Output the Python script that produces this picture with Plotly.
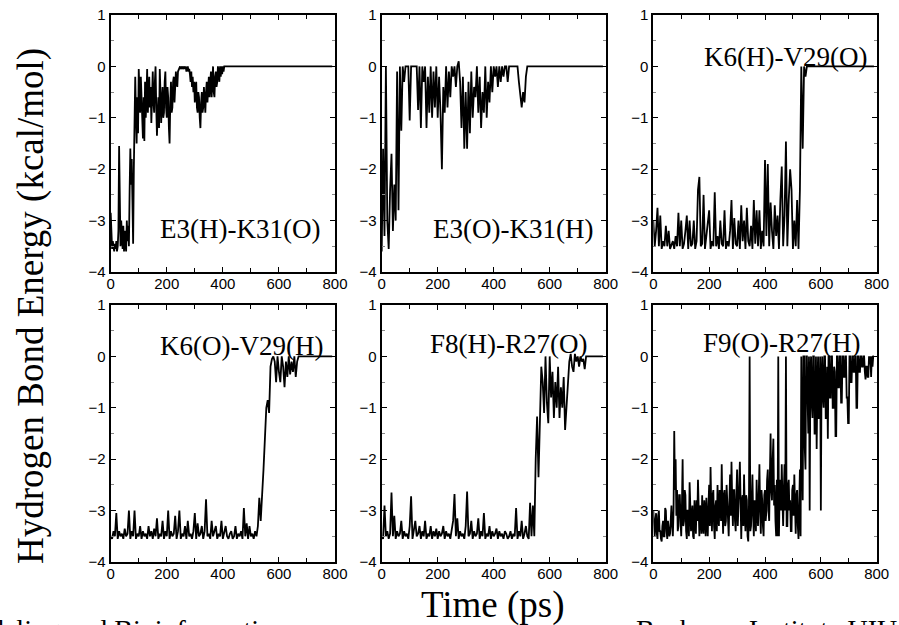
import plotly.graph_objects as go

# ---------------- data (kcal/mol) ----------------
T_END = 790

# E3(H)-K31(O), sampled every 2.5 ps from 0 to 410 ps
e3h_k31o = [-2.85, -3.3, -3.55, -3.4, -3.5, -3.6, -3.45, -3.55, -3.4, -3.6,
            -3.5, -3.2, -1.55, -3.3, -3.5, -3.0, -3.4, -3.55, -3.1, -3.6,
            -3.2, -3.5, -3.6, -3.0, -3.4, -3.1, -3.5, -2.4, -1.6, -2.3,
            -1.8, -2.6, -3.45, -2.0, -1.4, -0.2, -0.9, -1.5, -0.6, -1.3,
            -0.05, -0.7, -0.9, -0.2, -0.5, -1.0, -1.4, -0.6, -1.45, -0.3,
            -1.0, -0.6, -0.05, -0.9, -0.5, -0.2, -0.8, -0.4, -1.1, -0.3,
            -0.1, -0.7, -0.9, -0.3, 0.0, -0.8, -1.35, -0.9, -0.6, -1.2,
            -0.05, -0.5, -1.1, -0.7, -0.4, -1.0, -0.9, -0.3, -0.1, -0.8,
            -1.0, -0.4, -0.6, -1.2, -1.5, -0.7, -0.3, -0.9, -0.8, -0.3,
            -0.2, -0.7, -0.5, -0.1, -0.3, -0.4, -0.1, -0.05, 0.0, 0.0,
            -0.05, 0.0, 0.0, -0.05, 0.0, 0.0, -0.05, 0.0, -0.1, 0.0,
            0.0, -0.1, -0.05, -0.15, -0.3, -0.1, -0.4, -0.2, -0.5, -0.3,
            -0.7, -0.4, -0.3, -0.8, -0.9, -0.5, -0.6, -1.0, -1.2, -0.7,
            -0.5, -0.9, -0.8, -0.4, -0.6, -0.9, -0.5, -0.3, -0.7, -0.5,
            -0.2, -0.6, -0.3, -0.1, -0.6, -0.3, 0.0, -0.5, -0.6, -0.2,
            -0.1, -0.4, -0.3, 0.0, -0.2, -0.3, 0.0, -0.2, 0.0, -0.15,
            0.0, -0.1, 0.0, 0.0, 0.0]

# E3(O)-K31(H), every 5 ps from 0 to 520 ps
e3o_k31h = [-3.6, -1.6, -3.3, 0.0, -3.0, -3.55, -2.4, -1.7, -3.2, -2.3,
            -3.0, -0.1, -2.8, 0.0, -1.25, 0.0, -0.3, 0.0, 0.0, 0.0,
            -1.05, 0.0, 0.0, 0.0, 0.0, 0.0, -0.85, 0.0, -1.2, 0.0,
            -0.3, 0.0, -1.2, -0.2, -0.9, 0.0, -1.0, -0.1, -0.8, 0.0,
            -1.0, -0.2, -0.9, -2.0, -0.4, -0.9, 0.0, -0.8, -0.1, -0.6,
            0.0, -0.2, 0.0, -0.4, 0.0, 0.1, -0.3, -1.2, -0.2, -1.6,
            -0.5, -1.6, -0.3, -1.3, -0.1, -1.0, -0.4, -0.6, 0.0, -0.9,
            -0.2, -1.2, -0.5, -0.9, 0.0, -1.0, -0.3, -0.7, 0.0, -0.5,
            0.0, -0.2, 0.0, -0.4, 0.0, -0.3, 0.0, -0.2, 0.0, 0.0,
            -0.3, 0.0, 0.0, 0.0, 0.0, 0.0, 0.0, 0.0, -0.3, -0.6,
            -0.8, -0.5, -0.7, -0.2, 0.0]

# K6(H)-V29(O), every 5 ps from 0 to 550 ps
k6h_v29o = [-3.0, -3.5, -3.2, -2.75, -3.5, -2.9, -3.55, -3.4, -3.5, -3.1,
            -3.5, -3.2, -3.55, -3.45, -3.4, -3.55, -3.3, -3.5, -2.85, -3.5,
            -3.0, -3.55, -3.45, -3.2, -2.9, -3.55, -3.0, -3.5, -3.45, -3.0,
            -3.55, -3.4, -2.4, -2.15, -3.5, -3.45, -2.5, -3.55, -3.3, -3.0,
            -2.8, -3.55, -3.4, -3.5, -2.45, -3.5, -3.3, -3.55, -3.0, -3.45,
            -3.5, -2.8, -3.55, -3.4, -3.5, -3.2, -2.6, -3.55, -2.95, -3.45,
            -3.5, -3.0, -3.55, -2.7, -3.4, -3.0, -3.55, -2.75, -3.4, -3.5,
            -3.1, -3.55, -2.6, -3.45, -2.8, -3.5, -2.8, -3.55, -3.2, -3.5,
            -1.82, -3.3, -1.9, -3.5, -2.65, -3.2, -3.55, -2.7, -3.3, -2.9,
            -3.55, -2.6, -1.95, -3.5, -2.9, -1.46, -3.5, -2.6, -2.0, -2.4,
            -3.55, -3.0, -3.5, -2.6, -3.55, -2.4, 0.0, -1.6, 0.0, -0.2,
            0.0]

# K6(O)-V29(H), every 5 ps from 0 to 670 ps
k6o_v29h = [-3.5, -3.55, -3.4, -3.5, -3.05, -3.55, -3.4, -3.5, -3.45, -3.55,
            -3.35, -3.5, -3.45, -3.0, -3.55, -3.4, -3.5, -3.0, -3.55, -3.45,
            -3.5, -3.3, -3.55, -3.4, -3.5, -3.45, -3.55, -3.3, -3.5, -3.4,
            -3.55, -3.35, -3.5, -3.15, -3.55, -3.45, -3.5, -3.2, -3.55, -3.4,
            -3.5, -3.0, -3.55, -3.4, -3.5, -3.45, -3.1, -3.55, -3.4, -3.0,
            -3.55, -3.45, -3.5, -3.3, -3.55, -3.2, -3.5, -3.45, -3.55, -3.4,
            -3.05, -3.55, -3.25, -3.5, -3.45, -3.3, -3.55, -3.4, -2.78, -3.5,
            -3.45, -3.55, -3.2, -3.5, -3.4, -3.3, -3.55, -3.45, -3.5, -3.2,
            -3.55, -3.4, -3.3, -3.5, -3.55, -3.45, -3.4, -3.55, -3.5, -3.3,
            -3.55, -3.45, -3.5, -3.4, -3.55, -2.95, -3.5, -3.25, -3.55, -3.3,
            -3.5, -3.45, -3.55, -3.4, -3.5, -3.3, -2.75, -3.2, -2.8, -2.2,
            -1.6, -1.0, -0.85, -1.1, -0.2, -0.05, 0.0, -0.1, -0.5, 0.0,
            -0.3, -0.5, 0.0, -0.2, -0.6, -0.1, -0.4, 0.0, -0.35, -0.1,
            -0.3, 0.0, -0.4, -0.1, 0.0]

# F8(H)-R27(O), every 5 ps from 0 to 735 ps
f8h_r27o = [-3.5, -3.55, -2.9, -3.5, -3.4, -3.55, -3.45, -2.65, -3.5, -3.1,
            -3.55, -3.4, -3.5, -3.45, -3.2, -3.55, -3.4, -3.5, -3.45, -3.55,
            -3.3, -2.72, -3.55, -3.4, -3.2, -3.5, -3.45, -3.3, -3.55, -3.4,
            -3.5, -3.2, -3.55, -3.45, -3.5, -3.3, -3.55, -3.4, -3.5, -3.35,
            -3.55, -3.4, -3.5, -3.45, -3.3, -3.55, -3.4, -3.5, -3.45, -3.55,
            -3.4, -3.2, -2.68, -3.5, -3.15, -3.55, -3.4, -3.5, -3.45, -3.55,
            -3.3, -2.63, -3.5, -3.45, -3.2, -3.55, -3.4, -3.5, -3.45, -3.15,
            -3.55, -3.4, -3.5, -3.05, -3.55, -3.45, -3.5, -3.3, -3.55, -3.4,
            -3.5, -3.45, -3.35, -3.55, -3.4, -3.5, -3.45, -3.55, -3.4, -3.45,
            -3.55, -3.5, -3.4, -3.55, -3.45, -3.5, -2.95, -3.55, -3.4, -3.5,
            -3.2, -3.55, -3.45, -3.3, -3.5, -3.55, -2.85, -3.5, -2.9, -3.5,
            -2.0, -1.17, -2.35, -1.0, -0.2, -0.5, -1.1, 0.0, -0.9, -1.3,
            0.0, -0.8, -0.3, -1.2, -0.5, -1.0, -0.2, -1.2, -0.6, -1.0,
            -0.4, -1.43, -1.0, -0.6, -0.1, 0.05, -0.2, -0.3, 0.05, -0.1,
            0.0, -0.2, 0.0, -0.1, -0.05, -0.25, 0.0, 0.0]

# F9(O)-R27(H), every 2.5 ps from 0 to 790 ps
f9o_r27h = [-3.0, -3.3, -3.5, -3.2, -3.05, -3.45, -3.55, -3.1, -3.0, -3.4,
            -3.4, -3.55, -3.6, -3.3, -3.2, -3.5, -3.5, -2.95, -3.0, -3.4,
            -3.55, -3.2, -3.3, -3.5, -3.45, -2.9, -2.9, -3.3, -3.5, -3.0,
            -1.45, -2.6, -2.0, -3.1, -2.6, -3.4, -3.3, -2.7, -2.7, -3.2,
            -3.5, -2.9, -2.0, -3.3, -3.2, -2.6, -2.7, -3.4, -3.55, -3.0,
            -3.0, -3.5, -2.45, -2.9, -3.4, -3.1, -2.9, -3.5, -3.55, -2.8,
            -3.1, -3.45, -2.8, -3.2, -2.4, -3.0, -3.5, -2.9, -3.0, -3.45,
            -2.7, -3.3, -3.45, -2.8, -3.0, -3.5, -2.75, -3.2, -3.5, -2.9,
            -2.5, -3.3, -2.15, -2.9, -3.4, -2.7, -2.6, -3.3, -3.55, -2.9,
            -2.8, -3.4, -2.5, -3.1, -3.3, -2.6, -2.7, -3.2, -2.1, -2.9,
            -3.45, -2.7, -2.6, -3.3, -3.2, -2.5, -2.9, -3.4, -3.5, -2.8,
            -2.3, -3.1, -2.05, -2.8, -3.3, -2.6, -2.6, -3.2, -3.4, -2.7,
            -2.2, -3.3, -3.0, -2.5, -2.05, -3.0, -3.55, -2.8, -2.7, -3.3,
            -2.3, -3.0, -3.4, -2.7, -2.8, -3.5, -3.6, -2.9, 0.0, -3.4,
            -3.3, -2.8, -2.3, -3.1, -3.5, -2.8, -2.9, -3.4, -2.4, -3.0,
            -3.3, -2.7, -2.1, -3.0, -3.45, -2.6, -2.8, -3.3, -3.5, -2.7,
            -2.6, -3.2, -3.0, -2.4, -2.2, -3.0, -3.2, -2.3, -1.5, -2.6,
            -2.8, -2.0, -1.6, -2.9, -2.5, -3.2, -3.5, -2.4, -3.5, 0.0,
            -3.5, -2.6, -2.4, -3.0, -2.1, -2.8, -3.3, -2.6, -2.1, -3.0,
            0.0, -3.3, -3.3, -2.5, -2.4, -3.0, -2.8, -3.4, -3.4, -2.6,
            -2.5, -3.1, -2.3, -2.9, -3.45, -2.7, -2.6, -3.3, -3.55, -2.9,
            -2.2, -3.5, 0.0, -1.5, -2.8, 0.0, 0.0, -1.8, -2.2, 0.0,
            0.0, -0.8, -1.5, 0.0, -3.0, -0.3, 0.0, -0.9, -1.2, 0.0,
            0.0, -1.5, -1.5, 0.0, -1.8, -0.6, 0.0, -1.2, -1.2, 0.0,
            -3.0, -0.4, 0.0, -0.8, -1.0, 0.0, 0.0, -1.2, -1.2, -0.2,
            -1.6, 0.0, 0.0, -0.8, -0.8, 0.0, 0.0, -1.0, -1.0, -0.2,
            -0.3, -1.55, -1.55, 0.0, 0.0, -0.6, -0.6, 0.0, 0.0, -0.9,
            -0.9, 0.0, 0.0, -0.4, -0.4, 0.0, 0.0, -0.8, -0.8, -1.3,
            -1.3, 0.0, 0.0, -0.5, -0.5, 0.0, 0.0, -0.3, -0.3, 0.0,
            0.0, -1.0, -1.0, 0.0, 0.0, -0.3, -0.3, 0.0, 0.0, -0.2,
            -0.2, 0.0, 0.0, -0.3, -0.45, -0.2, -0.2, -0.4, -0.4, 0.0,
            -0.15, 0.0, -0.4, 0.0, -0.2, 0.0, 0.0]

series = [e3h_k31o, e3o_k31h, k6h_v29o, k6o_v29h, f8h_r27o, f9o_r27h]
steps = [2.5, 5, 5, 5, 5, 2.5]          # sampling interval of each series (ps)
labels = ["E3(H)-K31(O)", "E3(O)-K31(H)", "K6(H)-V29(O)",
          "K6(O)-V29(H)", "F8(H)-R27(O)", "F9(O)-R27(H)"]
x_ticks = [0, 200, 400, 600, 800]
y_ticks = [-4, -3, -2, -1, 0, 1]

# ---------------- layout geometry (pixels) ----------------
W, H = 899, 625
cols = [(110.7, 335.0), (381.7, 605.7), (653.3, 876.7)]
rows = [(15.0, 272.0), (305.0, 562.0)]
# label anchor (right edge fraction, middle fraction) in each panel's domain
label_pos = [(0.942, 0.167), (0.952, 0.167), (0.966, 0.835),
             (0.955, 0.84), (0.925, 0.848), (0.934, 0.852)]

SERIF = "Liberation Serif, Times New Roman, serif"
SANS = "Liberation Sans, Arial, sans-serif"

fig = go.Figure()
layout = dict(width=W, height=H, margin=dict(l=0, r=0, t=0, b=0, autoexpand=False),
              paper_bgcolor="white", plot_bgcolor="white",
              showlegend=False, annotations=[])

for i, ys in enumerate(series):
    r, c = divmod(i, 3)
    sfx = "" if i == 0 else str(i + 1)
    xs = [k * steps[i] for k in range(len(ys))]
    if xs[-1] < T_END:
        xs = xs + [T_END]
        ys = ys + [ys[-1]]
    fig.add_trace(go.Scatter(x=xs, y=ys, mode="lines",
                             line=dict(color="black", width=1.8),
                             xaxis=f"x{sfx}", yaxis=f"y{sfx}", hoverinfo="skip"))
    x0, x1 = cols[c]
    y0, y1 = rows[r]
    common = dict(showgrid=False, zeroline=False, showline=True,
                  linecolor="black", linewidth=2, mirror="ticks",
                  ticks="inside", ticklen=5, tickwidth=1, tickcolor="black",
                  tickfont=dict(family=SANS, size=15, color="black"))
    layout[f"xaxis{sfx}"] = dict(domain=[x0 / W, x1 / W], anchor=f"y{sfx}",
                                 range=[0, 800], tickvals=x_ticks,
                                 ticklabelstandoff=-3,
                                 minor=dict(dtick=100, tick0=0, ticks="inside",
                                            ticklen=4, tickcolor="black"),
                                 **common)
    layout[f"yaxis{sfx}"] = dict(domain=[1 - y1 / H, 1 - y0 / H], anchor=f"x{sfx}",
                                 range=[-4, 1], tickvals=y_ticks,
                                 minor=dict(dtick=0.5, tick0=0, ticks="inside",
                                            ticklen=3, tickcolor="#888"),
                                 **common)
    lx, ly = label_pos[i]
    layout["annotations"].append(dict(
        text=labels[i], xref=f"x{sfx} domain", yref=f"y{sfx} domain",
        x=lx, y=ly, xanchor="right", yanchor="middle", showarrow=False,
        font=dict(family=SERIF, size=27, color="black")))

layout["annotations"] += [
    dict(text="Hydrogen Bond Energy (kcal/mol)", xref="paper", yref="paper",
         x=31 / W, y=1 - 306 / H, xanchor="center", yanchor="middle",
         textangle=-90, showarrow=False,
         font=dict(family=SERIF, size=37, color="black")),
    dict(text="Time (ps)", xref="paper", yref="paper",
         x=493 / W, y=1 - 605 / H, xanchor="center", yanchor="middle",
         showarrow=False, font=dict(family=SERIF, size=37, color="black")),
    dict(text="Macromolecular Modeling and Bioinformatics", xref="paper", yref="paper",
         x=284 / W, y=1 - 612 / H, xanchor="right", yanchor="top",
         showarrow=False, font=dict(family=SERIF, size=28, color="black")),
    dict(text="Beckman Institute UIUC", xref="paper", yref="paper",
         x=634 / W, y=1 - 612 / H, xanchor="left", yanchor="top",
         showarrow=False, font=dict(family=SERIF, size=28, color="black")),
]

fig.update_layout(**layout)
fig.write_html("out.html",
               post_script="document.body.style.margin='0';"
                           "document.documentElement.style.overflow='hidden';")
